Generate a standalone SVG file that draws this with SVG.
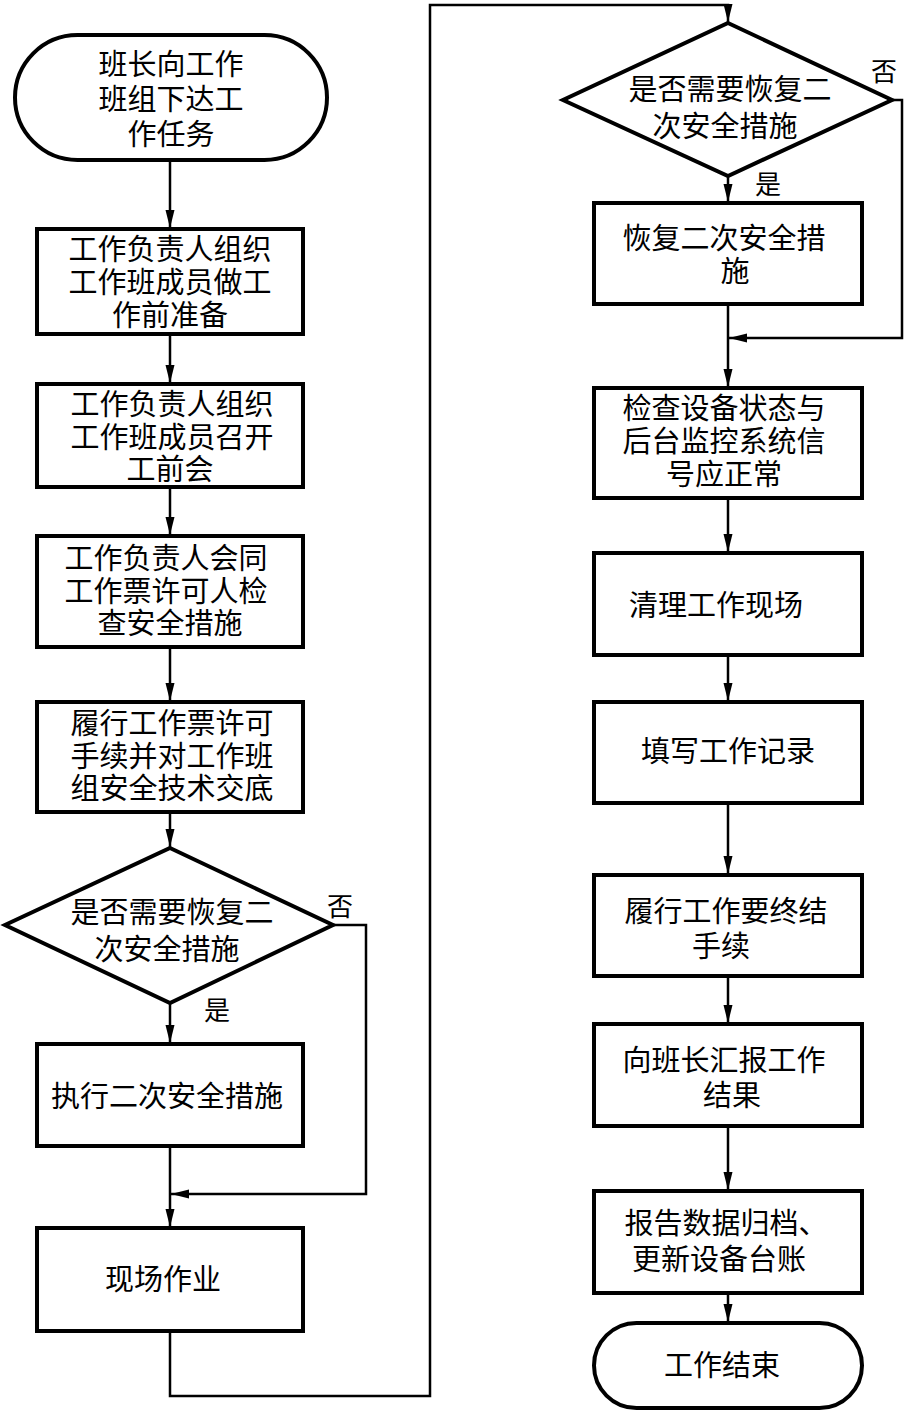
<svg xmlns="http://www.w3.org/2000/svg" width="905" height="1413" viewBox="0 0 905 1413">
<style>
.n{fill:#fff;stroke:#000;stroke-width:4}
.t{font-family:"Liberation Serif","Noto Sans CJK SC","Noto Sans CJK JP",serif;font-size:29px;fill:#000;text-anchor:middle;dominant-baseline:central}
.l{font-size:26px}
.c{fill:none;stroke:#000;stroke-width:2.5}
</style>
<defs>
<marker id="ah" markerUnits="userSpaceOnUse" markerWidth="18" markerHeight="10" refX="18" refY="4.5" orient="auto">
<path d="M0,0 L18,4.5 L0,9 z" fill="#000"/>
</marker>
</defs>
<rect width="905" height="1413" fill="#fff"/>
<g id="connectors">
<path class="c" d="M170,160 V228" marker-end="url(#ah)"/>
<path class="c" d="M170,334 V383" marker-end="url(#ah)"/>
<path class="c" d="M170,487 V535" marker-end="url(#ah)"/>
<path class="c" d="M170,647 V701" marker-end="url(#ah)"/>
<path class="c" d="M170,812 V847" marker-end="url(#ah)"/>
<path class="c" d="M170,1003 V1043" marker-end="url(#ah)"/>
<path class="c" d="M170,1146 V1227" marker-end="url(#ah)"/>
<path class="c" d="M333,925 H366 V1194 H171" marker-end="url(#ah)"/>
<path class="c" d="M170,1331 V1396 H430 V5 H728 V22" marker-end="url(#ah)"/>
<path class="c" d="M728,176 V202" marker-end="url(#ah)"/>
<path class="c" d="M728,304 V387" marker-end="url(#ah)"/>
<path class="c" d="M892,100 H902 V338 H729" marker-end="url(#ah)"/>
<path class="c" d="M728,498 V552" marker-end="url(#ah)"/>
<path class="c" d="M728,655 V701" marker-end="url(#ah)"/>
<path class="c" d="M728,803 V874" marker-end="url(#ah)"/>
<path class="c" d="M728,976 V1023" marker-end="url(#ah)"/>
<path class="c" d="M728,1126 V1190" marker-end="url(#ah)"/>
<path class="c" d="M728,1293 V1322" marker-end="url(#ah)"/>
<text class="t l" x="340" y="907">否</text>
<text class="t l" x="217" y="1011">是</text>
<text class="t l" x="884" y="72">否</text>
<text class="t l" x="768" y="185">是</text>
</g>
<g id="start">
<rect class="n" x="15" y="35" width="312" height="125" rx="62.5" ry="62.5"/>
<text class="t" x="171" y="65">班长向工作</text>
<text class="t" x="171" y="100">班组下达工</text>
<text class="t" x="171" y="135">作任务</text>
</g>
<g id="prep">
<rect class="n" x="37" y="229" width="266" height="105"/>
<text class="t" x="170" y="250">工作负责人组织</text>
<text class="t" x="170" y="283">工作班成员做工</text>
<text class="t" x="170" y="316">作前准备</text>
</g>
<g id="meeting">
<rect class="n" x="37" y="384" width="266" height="103"/>
<text class="t" x="172" y="405">工作负责人组织</text>
<text class="t" x="172" y="438">工作班成员召开</text>
<text class="t" x="170" y="470">工前会</text>
</g>
<g id="check">
<rect class="n" x="37" y="536" width="266" height="111"/>
<text class="t" x="166" y="559">工作负责人会同</text>
<text class="t" x="166" y="592">工作票许可人检</text>
<text class="t" x="170" y="624">查安全措施</text>
</g>
<g id="permit">
<rect class="n" x="37" y="702" width="266" height="110"/>
<text class="t" x="172" y="724">履行工作票许可</text>
<text class="t" x="172" y="757">手续并对工作班</text>
<text class="t" x="172" y="789">组安全技术交底</text>
</g>
<g id="decision1">
<polygon class="n" points="170,848 333,925 170,1003 5,925"/>
<text class="t" x="172" y="913">是否需要恢复二</text>
<text class="t" x="167" y="950">次安全措施</text>
</g>
<g id="execute">
<rect class="n" x="37" y="1044" width="266" height="102"/>
<text class="t" x="167" y="1097">执行二次安全措施</text>
</g>
<g id="work">
<rect class="n" x="37" y="1228" width="266" height="103"/>
<text class="t" x="163" y="1280">现场作业</text>
</g>
<g id="decision2">
<polygon class="n" points="728,23 892,100 728,176 563,100"/>
<text class="t" x="730" y="90">是否需要恢复二</text>
<text class="t" x="725" y="127">次安全措施</text>
</g>
<g id="restore">
<rect class="n" x="594" y="203" width="268" height="101"/>
<text class="t" x="724" y="239">恢复二次安全措</text>
<text class="t" x="735" y="272">施</text>
</g>
<g id="verify">
<rect class="n" x="594" y="388" width="268" height="110"/>
<text class="t" x="724" y="409">检查设备状态与</text>
<text class="t" x="724" y="442">后台监控系统信</text>
<text class="t" x="724" y="475">号应正常</text>
</g>
<g id="clean">
<rect class="n" x="594" y="553" width="268" height="102"/>
<text class="t" x="716" y="606">清理工作现场</text>
</g>
<g id="record">
<rect class="n" x="594" y="702" width="268" height="101"/>
<text class="t" x="728" y="752">填写工作记录</text>
</g>
<g id="terminate">
<rect class="n" x="594" y="875" width="268" height="101"/>
<text class="t" x="726" y="912">履行工作要终结</text>
<text class="t" x="721" y="947">手续</text>
</g>
<g id="report">
<rect class="n" x="594" y="1024" width="268" height="102"/>
<text class="t" x="724" y="1061">向班长汇报工作</text>
<text class="t" x="732" y="1096">结果</text>
</g>
<g id="archive">
<rect class="n" x="594" y="1191" width="268" height="102"/>
<text class="t" x="726" y="1224">报告数据归档、</text>
<text class="t" x="719" y="1260">更新设备台账</text>
</g>
<g id="end">
<rect class="n" x="594" y="1323" width="268" height="85" rx="42.5" ry="42.5"/>
<text class="t" x="722" y="1366">工作结束</text>
</g>
</svg>
